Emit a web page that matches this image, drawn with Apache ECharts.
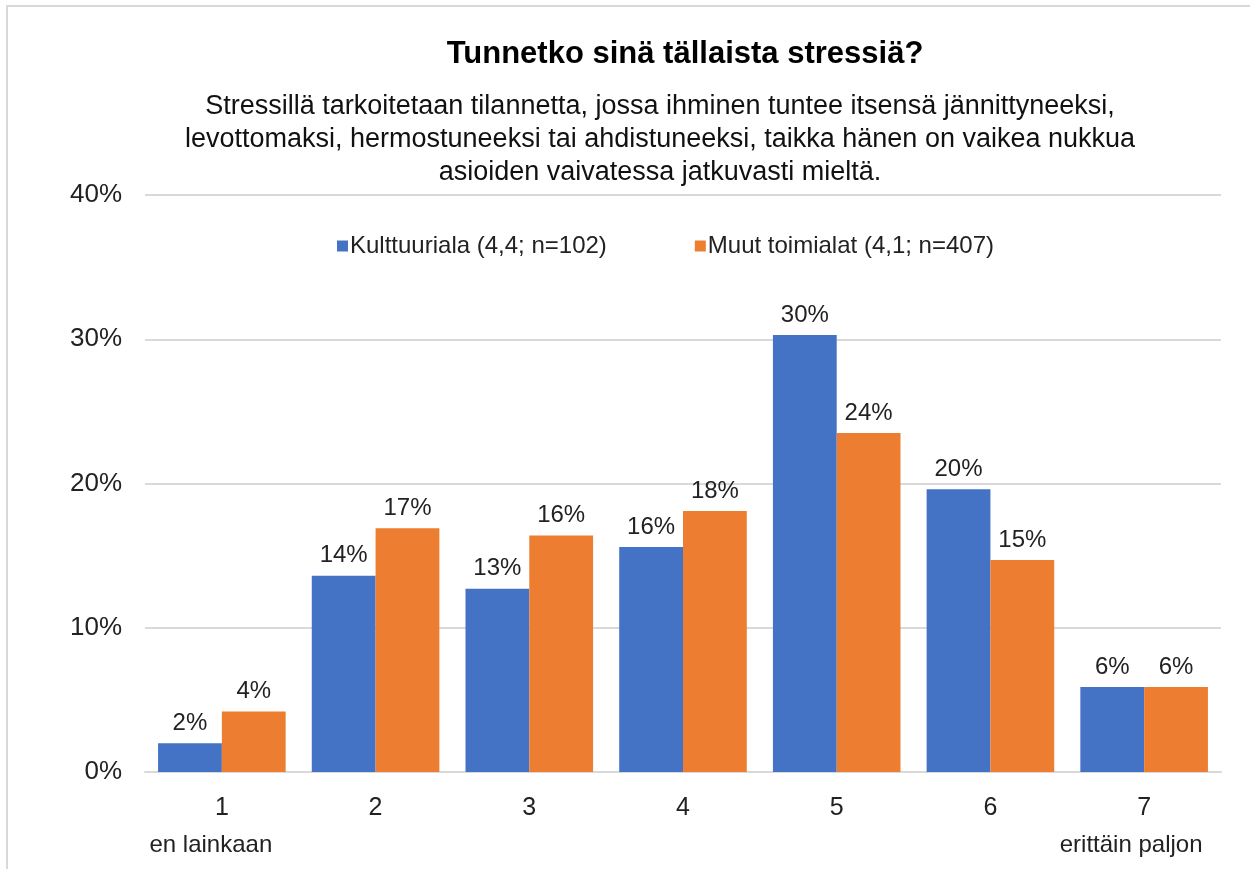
<!DOCTYPE html>
<html>
<head>
<meta charset="utf-8">
<script src="https://cdn.jsdelivr.net/npm/echarts@6/dist/echarts.min.js"></script>
<style>
  html, body { margin: 0; padding: 0; background: #fff; }
  #chart { width: 1250px; height: 869px; }
</style>
</head>
<body>
<div id="chart"></div>
<script>
// data (percent)
const categories = ['1', '2', '3', '4', '5', '6', '7']
const categoryNotes = ['en lainkaan', '', '', '', '', '', 'erittäin paljon']
const seriesNames = ['Kulttuuriala (4,4; n=102)', 'Muut toimialat (4,1; n=407)']
const kulttuuriala = [2.0, 13.6, 12.7, 15.6, 30.3, 19.6, 5.9]
const muutToimialat = [4.2, 16.9, 16.4, 18.1, 23.5, 14.7, 5.9]
const yTicks = [0, 10, 20, 30, 40]

const font = '"Liberation Sans", Arial, sans-serif'

const chart = echarts.init(document.getElementById('chart'))

const barLabel = {
    show: true,
    position: 'top',
    distance: 8,
    color: '#222',
    fontFamily: font,
    fontSize: 24,
    formatter: p => Math.round(p.value) + '%'
}

chart.setOption({
    animation: false,
    backgroundColor: '#fff',
    title: [
        {
            text: 'Tunnetko sinä tällaista stressiä?',
            left: 680, top: 34, textAlign: 'center',
            textStyle: {fontFamily: font, fontSize: 31, fontWeight: 'bold', color: '#000'}
        },
        {
            text: 'Stressillä tarkoitetaan tilannetta, jossa ihminen tuntee itsensä jännittyneeksi,\nlevottomaksi, hermostuneeksi tai ahdistuneeksi, taikka hänen on vaikea nukkua\nasioiden vaivatessa jatkuvasti mieltä.',
            left: 655, top: 85, textAlign: 'center',
            textStyle: {fontFamily: font, fontSize: 27, fontWeight: 'normal', color: '#111', lineHeight: 33}
        }
    ],
    graphic: [{
        type: 'rect',
        shape: {x: 7, y: 6, width: 1300, height: 900},
        style: {fill: 'none', stroke: '#d9d9d9', lineWidth: 2},
        silent: true
    }],
    legend: {
        data: seriesNames,
        left: 332, top: 229,
        itemWidth: 11, itemHeight: 11, itemGap: 88,
        icon: 'rect',
        textStyle: {fontFamily: font, fontSize: 24, color: '#222', padding: [0, 0, 0, -3]}
    },
    grid: {left: 145, right: 29, top: 195, bottom: 97},
    xAxis: {
        type: 'category',
        data: categories,
        axisLine: {lineStyle: {color: '#d9d9d9', width: 2}},
        axisTick: {show: false},
        axisLabel: {
            interval: 0,
            margin: 18,
            fontFamily: font, fontSize: 25, color: '#222', lineHeight: 37,
            formatter: (v, i) => {
                if (i === 0) return v + '\n{a|' + categoryNotes[i] + '}'
                if (i === 6) return v + '\n{b|' + categoryNotes[i] + '}'
                return v + '\n '
            },
            rich: {
                a: {fontFamily: font, fontSize: 24, color: '#222', lineHeight: 37, padding: [0, 22, 0, 0]},
                b: {fontFamily: font, fontSize: 24, color: '#222', lineHeight: 37, padding: [0, 26, 0, 0]}
            }
        }
    },
    yAxis: {
        type: 'value',
        min: yTicks[0], max: yTicks[yTicks.length - 1], interval: 10,
        axisLine: {show: false},
        axisTick: {show: false},
        splitLine: {lineStyle: {color: '#d9d9d9', width: 2}},
        axisLabel: {
            margin: 23,
            fontFamily: font, fontSize: 26, color: '#222',
            formatter: v => v + '%'
        }
    },
    series: [
        {
            name: seriesNames[0], type: 'bar', data: kulttuuriala,
            barGap: '0%', barCategoryGap: '17%',
            itemStyle: {color: '#4472C4'},
            label: barLabel
        },
        {
            name: seriesNames[1], type: 'bar', data: muutToimialat,
            barGap: '0%', barCategoryGap: '17%',
            itemStyle: {color: '#ED7D31'},
            label: barLabel
        }
    ]
})
</script>
</body>
</html>
